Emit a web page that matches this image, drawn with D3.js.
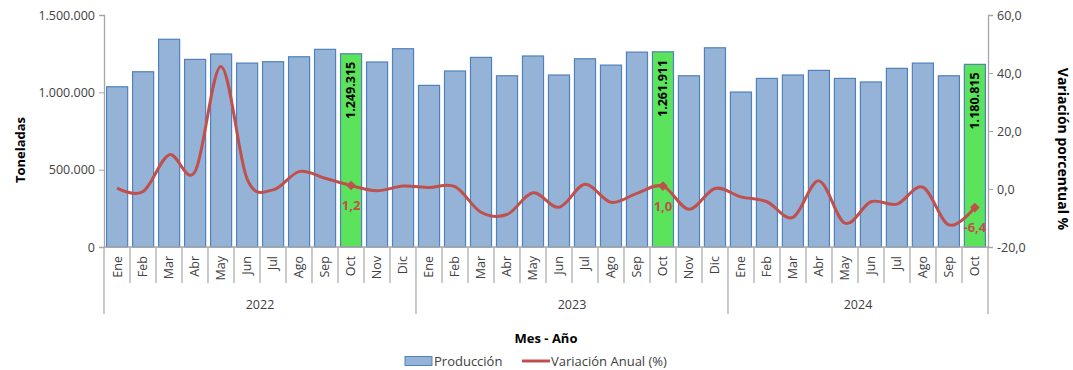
<!DOCTYPE html>
<html><head><meta charset="utf-8">
<script src="https://cdn.jsdelivr.net/npm/d3@7"></script>
<style>
body{margin:0;background:#fff}
svg text{font-family:"Open Sans","Noto Sans",sans-serif}
</style>
</head><body>
<svg id="c" width="1073" height="370"></svg>
<script>
const months = ["Ene","Feb","Mar","Abr","May","Jun","Jul","Ago","Sep","Oct","Nov","Dic"];
const years = ["2022","2023","2024"];
const monthsPerYear = [12, 12, 10];
const produccion = [
  1036000, 1133000, 1343000, 1213000, 1248000, 1189000, 1198000, 1230000, 1278000, 1249315, 1196000, 1282000,
  1045000, 1138000, 1226000, 1107000, 1235000, 1112000, 1217000, 1176000, 1260000, 1261911, 1107000, 1288000,
  1002000, 1090000, 1112000, 1142000, 1090000, 1067000, 1155000, 1189000, 1107000, 1180815
];
const variacion = [
  0.3, -0.9, 11.8, 6.0, 42.2, 3.5, -0.3, 6.0, 3.7, 1.2, -0.6, 1.0,
  0.5, 0.8, -8.0, -8.8, -1.3, -6.3, 1.6, -4.6, -1.5, 1.0, -7.0, 0.2,
  -2.7, -4.4, -9.8, 2.8, -11.8, -4.4, -5.2, 0.6, -12.4, -6.4
];
const highlighted = ["Oct 2022", "Oct 2023", "Oct 2024"];
const leftTicks = [0, 500000, 1000000, 1500000];
const rightTicks = [-20, 0, 20, 40, 60];

// build categories
const categories = [];
years.forEach((y, yi) => { for (let m = 0; m < monthsPerYear[yi]; m++) categories.push(months[m] + " " + y); });
const data = categories.map((c, i) => ({cat: c, month: c.split(" ")[0], year: c.split(" ")[1], p: produccion[i], v: variacion[i], hl: highlighted.includes(c)}));

const loc = d3.formatLocale({decimal: ",", thousands: ".", grouping: [3], currency: ["", ""], minus: "-"});
const fmtInt = loc.format(",d");
const fmt1 = loc.format(".1f");

const svg = d3.select("#c");
const L = 104, R = 988, T = 15, B = 247;
const x = d3.scaleBand().domain(categories).range([L, R]).paddingInner(0.19).paddingOuter(0.1);
const yL = d3.scaleLinear().domain([0, 1500000]).range([B, T]);
const yR = d3.scaleLinear().domain([-20, 60]).range([B, T]);
const axisCol = "#a6a6a6", textCol = "#404040";

// bars
svg.append("g").selectAll("rect").data(data).join("rect")
  .attr("x", d => x(d.cat)).attr("width", x.bandwidth())
  .attr("y", d => yL(d.p)).attr("height", d => yL(0) - yL(d.p))
  .attr("fill", d => d.hl ? "#5be35b" : "#95b3d7")
  .attr("stroke", "#4f81bd").attr("stroke-width", 1.2);

// left axis
const gl = svg.append("g").attr("transform", `translate(${L},0)`)
  .call(d3.axisLeft(yL).tickValues(leftTicks).tickSize(5).tickPadding(4).tickFormat(fmtInt));
gl.select(".domain").attr("stroke", axisCol).attr("stroke-width", 1.3);
gl.selectAll(".tick line").attr("stroke", axisCol);
gl.selectAll(".tick text").attr("fill", textCol).style("font-size", "12.5px").style("font-family", '"Open Sans",sans-serif');

// right axis
const gr = svg.append("g").attr("transform", `translate(${R},0)`)
  .call(d3.axisRight(yR).tickValues(rightTicks).tickSize(5).tickPadding(4).tickFormat(fmt1));
gr.select(".domain").attr("stroke", axisCol).attr("stroke-width", 1.3);
gr.selectAll(".tick line").attr("stroke", axisCol);
gr.selectAll(".tick text").attr("fill", textCol).style("font-size", "12.5px").style("font-family", '"Open Sans",sans-serif');

// x axis
const gx = svg.append("g");
gx.append("line").attr("x1", L).attr("x2", R).attr("y1", B).attr("y2", B).attr("stroke", axisCol).attr("stroke-width", 1.3);
d3.range(categories.length + 1).forEach(i => {
  const isYear = [0, 12, 24, 34].includes(i);
  const xx = L + (R - L) * i / categories.length;
  gx.append("line").attr("x1", xx).attr("x2", xx).attr("y1", B).attr("y2", isYear ? 314 : 283)
    .attr("stroke", axisCol).attr("stroke-width", 1.2);
});
gx.selectAll("text.m").data(data).join("text").attr("class", "m")
  .attr("transform", d => `translate(${x(d.cat) + x.bandwidth() / 2},256) rotate(-90)`)
  .attr("text-anchor", "end").attr("dy", "0.35em")
  .attr("fill", textCol).style("font-size", "12.5px").text(d => d.month);
let acc = 0;
years.forEach((y, yi) => {
  const a = L + (R - L) * acc / categories.length;
  acc += monthsPerYear[yi];
  const b = L + (R - L) * acc / categories.length;
  gx.append("text").attr("x", (a + b) / 2).attr("y", 305).attr("dy", "0.35em").attr("text-anchor", "middle")
    .attr("fill", textCol).style("font-size", "12.5px").text(y);
});

// line
const line = d3.line().x(d => x(d.cat) + x.bandwidth() / 2).y(d => yR(d.v)).curve(d3.curveCatmullRom.alpha(0));
svg.append("path").datum(data).attr("d", line).attr("fill", "none").attr("stroke", "#c0504d").attr("stroke-width", 3);

// markers & labels
const hl = data.filter(d => d.hl);
svg.append("g").selectAll("path").data(hl).join("path")
  .attr("d", d3.symbol(d3.symbolDiamond2, 60))
  .attr("transform", d => `translate(${x(d.cat) + x.bandwidth() / 2},${yR(d.v)})`)
  .attr("fill", "#c0504d");
svg.append("g").selectAll("text").data(hl).join("text")
  .attr("x", d => x(d.cat) + x.bandwidth() / 2).attr("y", d => yR(d.v) + 20).attr("dy", "0.35em")
  .attr("text-anchor", "middle").attr("fill", "#c0504d").style("font-size", "13px").style("font-weight", "bold")
  .text(d => fmt1(d.v));
svg.append("g").selectAll("text").data(hl).join("text")
  .attr("transform", d => `translate(${x(d.cat) + x.bandwidth() / 2},${yL(d.p) + 8}) rotate(-90)`)
  .attr("text-anchor", "end").attr("dy", "0.35em")
  .attr("fill", "#000").style("font-size", "12.5px").style("font-weight", "bold")
  .text(d => fmtInt(d.p));

// axis titles
svg.append("text").attr("transform", "translate(20,150) rotate(-90)").attr("text-anchor", "middle").attr("dy", "0.35em")
  .style("font-size", "13px").style("font-weight", "bold").attr("fill", "#000").text("Toneladas");
svg.append("text").attr("transform", "translate(1063,149) rotate(90)").attr("text-anchor", "middle").attr("dy", "0.35em")
  .style("font-size", "14px").style("font-weight", "bold").attr("fill", "#000").text("Variación porcentual %");
svg.append("text").attr("x", 546).attr("y", 338).attr("dy", "0.35em").attr("text-anchor", "middle")
  .style("font-size", "13px").style("font-weight", "bold").attr("fill", "#000").text("Mes - Año");

// legend
const lg = svg.append("g");
lg.append("rect").attr("x", 405).attr("y", 356.5).attr("width", 27).attr("height", 9).attr("fill", "#95b3d7").attr("stroke", "#4f81bd");
lg.append("text").attr("x", 434).attr("y", 361).attr("dy", "0.35em").attr("fill", textCol).style("font-size", "13px").text("Producción");
lg.append("line").attr("x1", 522).attr("x2", 550).attr("y1", 361).attr("y2", 361).attr("stroke", "#c0504d").attr("stroke-width", 3);
lg.append("text").attr("x", 551).attr("y", 361).attr("dy", "0.35em").attr("fill", textCol).style("font-size", "13px").text("Variación Anual (%)");
</script>
</body></html>
